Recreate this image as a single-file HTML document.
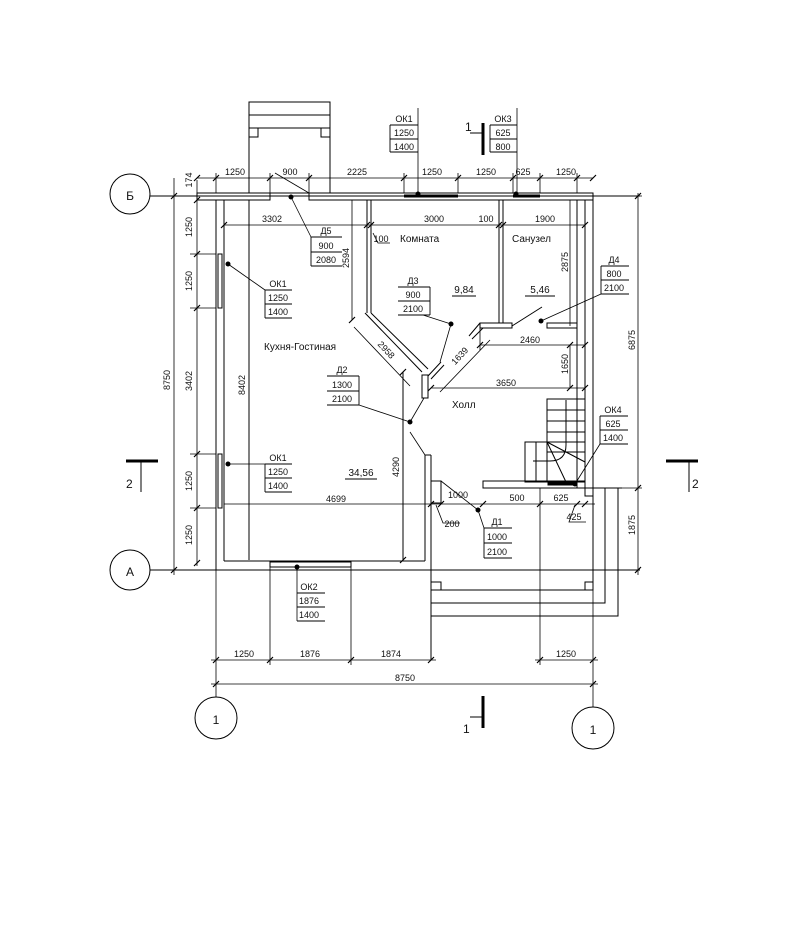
<!DOCTYPE html>
<html><head><meta charset="utf-8"><style>
html,body{margin:0;padding:0;background:#fff}
svg{display:block}
text{font-family:"Liberation Sans","DejaVu Sans",sans-serif;font-size:10px;fill:#111}
.s{font-size:9px}
.l{font-size:12px}
</style></head><body>
<svg width="789" height="952" viewBox="0 0 789 952" xmlns="http://www.w3.org/2000/svg">
<g stroke="#000" stroke-width="1" fill="none">
<!-- axis circles -->
<circle cx="130" cy="194" r="20"/><circle cx="130" cy="570" r="20"/>
<circle cx="216" cy="718" r="21"/><circle cx="593" cy="728" r="21"/>
<line x1="150" y1="196" x2="640" y2="196"/>
<line x1="150" y1="570" x2="640" y2="570"/>
<!-- top extension -->
<rect x="249" y="102" width="81" height="91"/>
<line x1="249" y1="115" x2="330" y2="115"/><line x1="249" y1="128" x2="330" y2="128"/>
<rect x="249" y="128" width="9" height="9"/><rect x="321" y="128" width="9" height="9"/>
<!-- top wall -->
<polyline points="270,193 197,193 197,200 270,200 270,193"/>
<polyline points="309,193 593,193 593,200 309,200 309,193"/>
<!-- left wall -->
<line x1="216" y1="200" x2="216" y2="570"/><line x1="224" y1="200" x2="224" y2="561"/>
<line x1="249" y1="200" x2="249" y2="560"/>
<rect x="218" y="254" width="4" height="54"/><rect x="218" y="454" width="4" height="54"/>
<!-- bottom wall -->
<line x1="224" y1="561" x2="425" y2="561"/>
<line x1="431" y1="488" x2="431" y2="660"/>
<line x1="425" y1="455" x2="425" y2="561"/>
<!-- windows bottom -->
<rect x="270" y="562" width="81" height="5"/>
<!-- right wall -->
<line x1="577" y1="200" x2="577" y2="488"/><line x1="585" y1="200" x2="585" y2="488"/>
<line x1="593" y1="200" x2="593" y2="590"/>
<!-- kitchen/room wall -->
<line x1="367" y1="200" x2="367" y2="313"/><line x1="371" y1="200" x2="371" y2="313"/>
<polyline points="365,313 422,372"/><polyline points="371,313 428,369"/>
<line x1="428" y1="376" x2="441" y2="362"/>
<line x1="431" y1="379" x2="444" y2="365"/>
<rect x="422" y="375" width="6" height="23"/>
<line x1="403" y1="372" x2="403" y2="560"/>
<line x1="425" y1="455" x2="431" y2="455"/><line x1="431" y1="455" x2="431" y2="482"/>
<rect x="431" y="481" width="10" height="22"/>
<!-- room/bath wall -->
<line x1="499" y1="200" x2="499" y2="323"/><line x1="503" y1="200" x2="503" y2="323"/>
<rect x="480" y="323" width="32" height="5"/>
<line x1="469" y1="336" x2="480" y2="323"/><line x1="472" y1="339" x2="483" y2="328"/>
<line x1="512" y1="326" x2="542" y2="307"/>
<rect x="547" y="323" width="30" height="5"/>
<!-- stairs -->
<rect x="547" y="399" width="38" height="83"/>
<line x1="547" y1="410" x2="585" y2="410"/><line x1="547" y1="421" x2="585" y2="421"/>
<line x1="547" y1="432" x2="585" y2="432"/><line x1="547" y1="442" x2="585" y2="442"/>
<line x1="547" y1="452" x2="585" y2="452"/>
<rect x="525" y="442" width="22" height="40"/><line x1="536" y1="442" x2="536" y2="482"/>
<line x1="547" y1="442" x2="585" y2="462"/><line x1="547" y1="442" x2="566" y2="482"/>
<path d="M566 400 L566 445 Q566 461 550 461 L533 461"/>
<!-- hall bottom wall -->
<rect x="483" y="481" width="102" height="7"/>
<rect x="548" y="482" width="25" height="3" fill="#000"/>
<rect x="585" y="488" width="8" height="8"/>
<!-- porch -->
<rect x="431" y="582" width="10" height="8"/><rect x="585" y="582" width="8" height="8"/>
<line x1="431" y1="590" x2="593" y2="590"/>
<polyline points="431,603 605,603 605,488"/>
<polyline points="431,616 618,616 618,488"/>
<line x1="593" y1="488" x2="622" y2="488"/>
</g>
<!-- windows top thick -->
<g stroke="#000" stroke-width="3"><line x1="404" y1="196" x2="458" y2="196"/><line x1="513" y1="196" x2="540" y2="196"/></g>
<g fill="#000">
<circle cx="418" cy="194" r="2.5"/><circle cx="516" cy="194" r="2.5"/><circle cx="291" cy="197" r="2.5"/>
<circle cx="228" cy="264" r="2.5"/><circle cx="451" cy="324" r="2.5"/><circle cx="541" cy="321" r="2.5"/>
<circle cx="410" cy="422" r="2.5"/><circle cx="228" cy="464" r="2.5"/><circle cx="478" cy="510" r="2.5"/>
<circle cx="575" cy="484" r="2.5"/><circle cx="297" cy="567" r="2.5"/>
</g>
<!-- dimension lines -->
<g stroke="#000" stroke-width="0.8" fill="none">
<line x1="197" y1="178" x2="593" y2="178"/>
<line x1="174" y1="178" x2="174" y2="575"/><line x1="197" y1="180" x2="197" y2="566"/>
<line x1="190" y1="254" x2="216" y2="254"/><line x1="190" y1="308" x2="216" y2="308"/>
<line x1="190" y1="454" x2="216" y2="454"/><line x1="190" y1="508" x2="216" y2="508"/>
<line x1="216" y1="173" x2="216" y2="193"/><line x1="270" y1="173" x2="270" y2="193"/>
<line x1="309" y1="173" x2="309" y2="193"/><line x1="404" y1="173" x2="404" y2="193"/>
<line x1="458" y1="173" x2="458" y2="193"/><line x1="513" y1="173" x2="513" y2="193"/>
<line x1="540" y1="173" x2="540" y2="193"/><line x1="577" y1="173" x2="577" y2="193"/>
<line x1="224" y1="225" x2="585" y2="225"/>
<line x1="352" y1="200" x2="352" y2="320"/>
<line x1="570" y1="200" x2="570" y2="326"/><line x1="570" y1="345" x2="570" y2="388"/>
<line x1="480" y1="345" x2="585" y2="345"/><line x1="480" y1="328" x2="480" y2="350"/>
<line x1="431" y1="388" x2="585" y2="388"/>
<line x1="354" y1="327" x2="410" y2="386"/>
<line x1="440" y1="392" x2="490" y2="340"/>
<line x1="224" y1="504" x2="595" y2="504"/>
<line x1="638" y1="193" x2="638" y2="575"/><line x1="593" y1="196" x2="642" y2="196"/>
<line x1="622" y1="488" x2="642" y2="488"/>
<line x1="211" y1="660" x2="436" y2="660"/><line x1="535" y1="660" x2="598" y2="660"/>
<line x1="211" y1="684" x2="598" y2="684"/>
<line x1="216" y1="570" x2="216" y2="697"/><line x1="270" y1="567" x2="270" y2="665"/>
<line x1="351" y1="567" x2="351" y2="665"/><line x1="540" y1="488" x2="540" y2="665"/>
<line x1="593" y1="590" x2="593" y2="707"/>
<!-- leaders -->
<line x1="418" y1="108" x2="418" y2="194"/><line x1="517" y1="108" x2="517" y2="194"/>
<line x1="291" y1="197" x2="311" y2="237"/><line x1="275" y1="173" x2="309" y2="193"/>
<line x1="228" y1="264" x2="265" y2="290"/><line x1="423" y1="315" x2="451" y2="324"/>
<line x1="451" y1="324" x2="440" y2="362"/><line x1="601" y1="294" x2="541" y2="321"/>
<line x1="359" y1="405" x2="410" y2="422"/><line x1="410" y1="422" x2="424" y2="398"/>
<line x1="410" y1="432" x2="425" y2="455"/><line x1="228" y1="464" x2="265" y2="464"/>
<line x1="441" y1="481" x2="478" y2="510"/><line x1="478" y1="510" x2="484" y2="528"/>
<line x1="600" y1="444" x2="575" y2="484"/><line x1="297" y1="567" x2="297" y2="621"/>
<polyline points="436,505 443,523 460,523"/><polyline points="575,505 569,522 586,522"/>
<polyline points="373,233 378,243 390,243"/>
</g>
<!-- ticks -->
<g stroke="#000" stroke-width="1.2">
<path d="M213 181l6-6M267 181l6-6M306 181l6-6M401 181l6-6M455 181l6-6M510 181l6-6M537 181l6-6M574 181l6-6M590 181l6-6M194 181l6-6
M171 199l6-6M171 573l6-6M194 203l6-6M194 257l6-6M194 311l6-6M194 457l6-6M194 511l6-6M194 566l6-6
M221 228l6-6M364 228l6-6M368 228l6-6M496 228l6-6M500 228l6-6M582 228l6-6
M213 663l6-6M267 663l6-6M348 663l6-6M428 663l6-6M537 663l6-6M590 663l6-6M213 687l6-6M590 687l6-6
M635 199l6-6M635 491l6-6M635 573l6-6M428 507l6-6M438 507l6-6M480 507l6-6M537 507l6-6M574 507l6-6M582 507l6-6
M428 391l6-6M582 391l6-6M477 348l6-6M582 348l6-6M349 323l6-6M567 348l6-6M567 391l6-6M400 375l6-6M400 563l6-6"/>
</g>
<!-- section marks -->
<g stroke="#000">
<line x1="483" y1="123" x2="483" y2="155" stroke-width="3"/><line x1="470" y1="133" x2="483" y2="133"/>
<line x1="483" y1="696" x2="483" y2="728" stroke-width="3"/><line x1="470" y1="717" x2="483" y2="717"/>
<line x1="126" y1="461" x2="158" y2="461" stroke-width="3"/><line x1="141" y1="462" x2="141" y2="492"/>
<line x1="666" y1="461" x2="698" y2="461" stroke-width="3"/><line x1="689" y1="462" x2="689" y2="492"/>
</g>
<!-- tag boxes -->
<g stroke="#000" stroke-width="0.9" fill="none">
<path d="M390 125h28M390 139h28M390 152h28M390 125v27"/>
<path d="M490 125h27M490 139h27M490 152h27M490 125v27"/>
<path d="M311 237h31M311 252h31M311 266h31M311 237v29"/>
<path d="M265 290h27M265 304h27M265 318h27M265 290v28"/>
<path d="M398 287h32M398 301h32M398 315h32M430 287v28"/>
<path d="M601 266h28M601 280h28M601 294h28M601 266v28"/>
<path d="M327 376h32M327 391h32M327 405h32M359 376v29"/>
<path d="M265 464h27M265 478h27M265 492h27M265 464v28"/>
<path d="M484 528h28M484 543h28M484 558h28M484 528v30"/>
<path d="M600 416h28M600 430h28M600 444h28M600 416v28"/>
<path d="M297 593h28M297 607h28M297 621h28"/>
<path d="M452 296h24M525 296h30M345 479h32"/>
</g>
<g>
<text x="130" y="200" text-anchor="middle" class="l">Б</text>
<text x="130" y="576" text-anchor="middle" class="l">А</text>
<text x="216" y="724" text-anchor="middle" class="l">1</text>
<text x="593" y="734" text-anchor="middle" class="l">1</text>
<text x="465" y="131" class="l">1</text><text x="463" y="733" class="l">1</text>
<text x="126" y="488" class="l">2</text><text x="692" y="488" class="l">2</text>
<text x="404" y="122" text-anchor="middle" class="s">ОК1</text><text x="404" y="136" text-anchor="middle" class="s">1250</text><text x="404" y="150" text-anchor="middle" class="s">1400</text>
<text x="503" y="122" text-anchor="middle" class="s">ОК3</text><text x="503" y="136" text-anchor="middle" class="s">625</text><text x="503" y="150" text-anchor="middle" class="s">800</text>
<text x="326" y="234" text-anchor="middle" class="s">Д5</text><text x="326" y="249" text-anchor="middle" class="s">900</text><text x="326" y="263" text-anchor="middle" class="s">2080</text>
<text x="278" y="287" text-anchor="middle" class="s">ОК1</text><text x="278" y="301" text-anchor="middle" class="s">1250</text><text x="278" y="315" text-anchor="middle" class="s">1400</text>
<text x="413" y="284" text-anchor="middle" class="s">Д3</text><text x="413" y="298" text-anchor="middle" class="s">900</text><text x="413" y="312" text-anchor="middle" class="s">2100</text>
<text x="614" y="263" text-anchor="middle" class="s">Д4</text><text x="614" y="277" text-anchor="middle" class="s">800</text><text x="614" y="291" text-anchor="middle" class="s">2100</text>
<text x="342" y="373" text-anchor="middle" class="s">Д2</text><text x="342" y="388" text-anchor="middle" class="s">1300</text><text x="342" y="402" text-anchor="middle" class="s">2100</text>
<text x="278" y="461" text-anchor="middle" class="s">ОК1</text><text x="278" y="475" text-anchor="middle" class="s">1250</text><text x="278" y="489" text-anchor="middle" class="s">1400</text>
<text x="497" y="525" text-anchor="middle" class="s">Д1</text><text x="497" y="540" text-anchor="middle" class="s">1000</text><text x="497" y="555" text-anchor="middle" class="s">2100</text>
<text x="613" y="413" text-anchor="middle" class="s">ОК4</text><text x="613" y="427" text-anchor="middle" class="s">625</text><text x="613" y="441" text-anchor="middle" class="s">1400</text>
<text x="309" y="590" text-anchor="middle" class="s">ОК2</text><text x="309" y="604" text-anchor="middle" class="s">1876</text><text x="309" y="618" text-anchor="middle" class="s">1400</text>
<text x="400" y="242">Комната</text><text x="512" y="242">Санузел</text>
<text x="264" y="350">Кухня-Гостиная</text><text x="452" y="408">Холл</text>
<text x="464" y="293" text-anchor="middle">9,84</text><text x="540" y="293" text-anchor="middle">5,46</text>
<text x="361" y="476" text-anchor="middle">34,56</text>
<text x="235" y="175" text-anchor="middle" class="s">1250</text><text x="290" y="175" text-anchor="middle" class="s">900</text>
<text x="357" y="175" text-anchor="middle" class="s">2225</text><text x="432" y="175" text-anchor="middle" class="s">1250</text>
<text x="486" y="175" text-anchor="middle" class="s">1250</text><text x="523" y="175" text-anchor="middle" class="s">625</text>
<text x="566" y="175" text-anchor="middle" class="s">1250</text>
<text x="272" y="222" text-anchor="middle" class="s">3302</text><text x="434" y="222" text-anchor="middle" class="s">3000</text>
<text x="486" y="222" text-anchor="middle" class="s">100</text><text x="545" y="222" text-anchor="middle" class="s">1900</text>
<text x="381" y="242" text-anchor="middle" class="s">100</text>
<text x="530" y="343" text-anchor="middle" class="s">2460</text><text x="506" y="386" text-anchor="middle" class="s">3650</text>
<text x="336" y="502" text-anchor="middle" class="s">4699</text>
<text x="458" y="498" text-anchor="middle" class="s">1000</text><text x="517" y="501" text-anchor="middle" class="s">500</text>
<text x="561" y="501" text-anchor="middle" class="s">625</text><text x="574" y="520" text-anchor="middle" class="s">425</text>
<text x="452" y="527" text-anchor="middle" class="s">200</text>
<text x="244" y="657" text-anchor="middle" class="s">1250</text><text x="310" y="657" text-anchor="middle" class="s">1876</text>
<text x="391" y="657" text-anchor="middle" class="s">1874</text><text x="566" y="657" text-anchor="middle" class="s">1250</text>
<text x="405" y="681" text-anchor="middle" class="s">8750</text>
<text transform="translate(192,180) rotate(-90)" text-anchor="middle" class="s">174</text>
<text transform="translate(192,227) rotate(-90)" text-anchor="middle" class="s">1250</text>
<text transform="translate(192,281) rotate(-90)" text-anchor="middle" class="s">1250</text>
<text transform="translate(192,381) rotate(-90)" text-anchor="middle" class="s">3402</text>
<text transform="translate(192,481) rotate(-90)" text-anchor="middle" class="s">1250</text>
<text transform="translate(192,535) rotate(-90)" text-anchor="middle" class="s">1250</text>
<text transform="translate(170,380) rotate(-90)" text-anchor="middle" class="s">8750</text>
<text transform="translate(245,385) rotate(-90)" text-anchor="middle" class="s">8402</text>
<text transform="translate(349,258) rotate(-90)" text-anchor="middle" class="s">2594</text>
<text transform="translate(568,262) rotate(-90)" text-anchor="middle" class="s">2875</text>
<text transform="translate(568,364) rotate(-90)" text-anchor="middle" class="s">1650</text>
<text transform="translate(399,467) rotate(-90)" text-anchor="middle" class="s">4290</text>
<text transform="translate(635,340) rotate(-90)" text-anchor="middle" class="s">6875</text>
<text transform="translate(635,525) rotate(-90)" text-anchor="middle" class="s">1875</text>
<text transform="translate(384,352) rotate(47)" text-anchor="middle" class="s">2958</text>
<text transform="translate(462,358) rotate(-47)" text-anchor="middle" class="s">1639</text>
</g>
</svg>
</body></html>
